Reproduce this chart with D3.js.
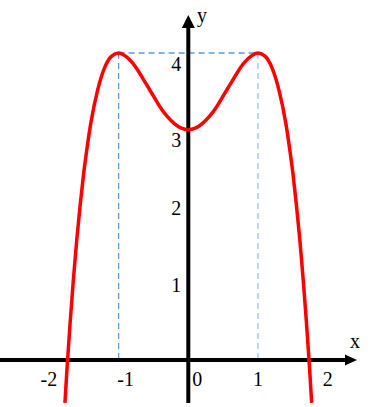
<!DOCTYPE html>
<html>
<head>
<meta charset="utf-8">
<script src="https://cdn.jsdelivr.net/npm/d3@7"></script>
<style>
  html, body { margin: 0; padding: 0; background: #fff; }
  svg { display: block; }
  text { font-family: "Liberation Serif", "Times New Roman", serif; fill: #000; }
</style>
</head>
<body>
<div id="chart"></div>
<script>
// points (x, y)
var curveX = [-1.77, -1.74, -1.7, -1.65, -1.6, -1.55, -1.5, -1.45, -1.4, -1.3, -1.2, -1.1, -1.0,
              -0.9, -0.8, -0.7, -0.6, -0.5, -0.4, -0.3, -0.2, -0.1, 0,
              0.1, 0.2, 0.3, 0.4, 0.5, 0.6, 0.7, 0.8, 0.9,
              1.0, 1.1, 1.2, 1.3, 1.4, 1.45, 1.5, 1.55, 1.6, 1.65, 1.7, 1.74, 1.77];
var curveY = [-0.56, -0.11, 0.43, 1.03, 1.57, 2.03, 2.44, 2.78, 3.08, 3.52, 3.81, 3.96, 4.0,
              3.96, 3.87, 3.74, 3.59, 3.44, 3.29, 3.17, 3.08, 3.02, 3.0,
              3.02, 3.08, 3.17, 3.29, 3.44, 3.59, 3.74, 3.87, 3.96,
              4.0, 3.96, 3.81, 3.52, 3.08, 2.78, 2.44, 2.03, 1.57, 1.03, 0.43, -0.11, -0.56];
var xTicks = [-2, -1, 0, 1, 2];
var yTicks = [1, 2, 3, 4];
var peakX = [-1, 1];
var peakY = 4;

var width = 388, height = 407;

var svg = d3.select("#chart")
    .append("svg")
    .attr("width", width)
    .attr("height", height);

var x = d3.scaleLinear().domain([-1, 1]).range([118.6, 258]);
var y = d3.scaleLinear().domain([0, 4]).range([360, 53]);

// dashed guide lines
svg.append("line")
    .attr("x1", x(peakX[0])).attr("x2", x(peakX[1]))
    .attr("y1", y(peakY)).attr("y2", y(peakY))
    .style("stroke", "#5b9bd5").style("stroke-width", 1.3)
    .style("stroke-dasharray", "6,4");

svg.selectAll(".vguide")
    .data(peakX)
    .enter()
    .append("line")
    .attr("class", "vguide")
    .attr("x1", function(d) { return x(d); })
    .attr("x2", function(d) { return x(d); })
    .attr("y1", y(peakY)).attr("y2", y(0))
    .style("stroke", function(d) { return d < 0 ? "#5b9bd5" : "#9dc3e6"; })
    .style("stroke-width", 1.3)
    .style("stroke-dasharray", "6,4");

// axes
svg.append("line")
    .attr("x1", 0).attr("x2", 346)
    .attr("y1", y(0)).attr("y2", y(0))
    .style("stroke", "#000").style("stroke-width", 4);
svg.append("path")
    .attr("d", "M345," + (y(0) - 5.5) + "L357," + y(0) + "L345," + (y(0) + 5.5) + "Z")
    .style("fill", "#000");

svg.append("line")
    .attr("x1", x(0)).attr("x2", x(0))
    .attr("y1", 403).attr("y2", 27)
    .style("stroke", "#000").style("stroke-width", 4);
svg.append("path")
    .attr("d", "M" + (x(0) - 6.5) + ",28L" + x(0) + ",15L" + (x(0) + 6.5) + ",28Z")
    .style("fill", "#000");

// the curve
var pts = curveX.map(function(d, i) { return [d, curveY[i]]; });
var line = d3.line()
    .x(function(d) { return x(d[0]); })
    .y(function(d) { return y(d[1]); })
    .curve(d3.curveMonotoneX);

svg.append("path")
    .datum(pts)
    .attr("d", line)
    .style("fill", "none")
    .style("stroke", "#ff0000")
    .style("stroke-width", 3.5)
    .style("stroke-linejoin", "round");

// tick labels
svg.selectAll(".xlab")
    .data(xTicks)
    .enter()
    .append("text")
    .attr("class", "xlab")
    .attr("x", function(d) { return x(d) + (d === -1 ? 7 : d === 0 ? 9 : 0); })
    .attr("y", 386)
    .attr("text-anchor", "middle")
    .style("font-size", "20px")
    .text(function(d) { return d; });

svg.selectAll(".ylab")
    .data(yTicks)
    .enter()
    .append("text")
    .attr("class", "ylab")
    .attr("x", x(0) - 12)
    .attr("y", function(d) { return y(d) + (d >= 3 ? 17.5 : 8.5); })
    .attr("text-anchor", "middle")
    .style("font-size", "20px")
    .text(function(d) { return d; });

// axis names
svg.append("text")
    .attr("x", 350).attr("y", 348)
    .style("font-size", "20px")
    .text("x");
svg.append("text")
    .attr("x", 197).attr("y", 22)
    .style("font-size", "20px")
    .text("y");
</script>
</body>
</html>
